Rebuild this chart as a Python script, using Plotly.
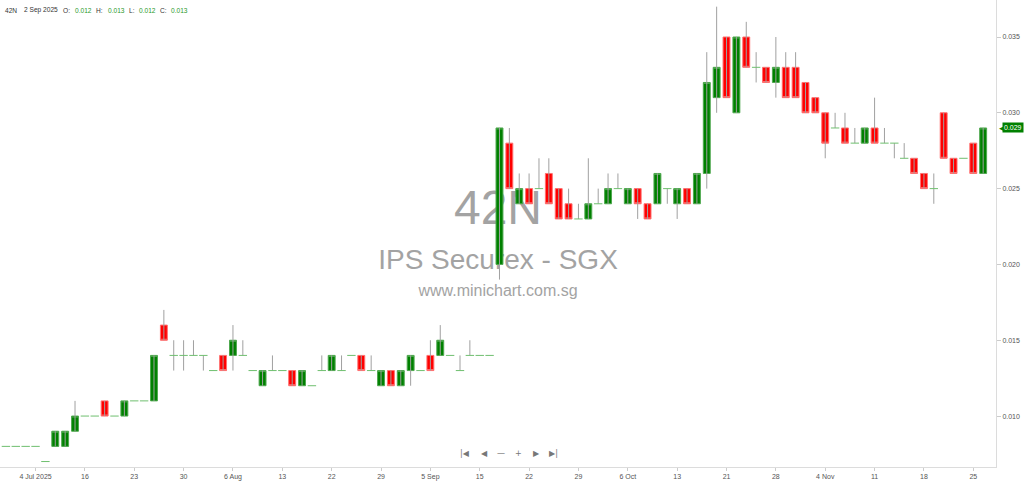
import plotly.graph_objects as go

# trading days shown on the category axis
dates = [
    "2025-06-27", "2025-07-01", "2025-07-03", "2025-07-04", "2025-07-07", "2025-07-09", "2025-07-10", "2025-07-14",
    "2025-07-16", "2025-07-17", "2025-07-18", "2025-07-21", "2025-07-22", "2025-07-23", "2025-07-24", "2025-07-25",
    "2025-07-28", "2025-07-29", "2025-07-30", "2025-07-31", "2025-08-01", "2025-08-04", "2025-08-05", "2025-08-06",
    "2025-08-07", "2025-08-08", "2025-08-11", "2025-08-12", "2025-08-13", "2025-08-14", "2025-08-15", "2025-08-19",
    "2025-08-20", "2025-08-22", "2025-08-25", "2025-08-26", "2025-08-27", "2025-08-28", "2025-08-29", "2025-09-01",
    "2025-09-02", "2025-09-03", "2025-09-04", "2025-09-05", "2025-09-08", "2025-09-09", "2025-09-10", "2025-09-12",
    "2025-09-15", "2025-09-16", "2025-09-17", "2025-09-18", "2025-09-19", "2025-09-22", "2025-09-23", "2025-09-24",
    "2025-09-25", "2025-09-26", "2025-09-29", "2025-09-30", "2025-10-01", "2025-10-02", "2025-10-03", "2025-10-06",
    "2025-10-07", "2025-10-08", "2025-10-09", "2025-10-10", "2025-10-13", "2025-10-14", "2025-10-15", "2025-10-16",
    "2025-10-17", "2025-10-21", "2025-10-22", "2025-10-23", "2025-10-24", "2025-10-27", "2025-10-28", "2025-10-29",
    "2025-10-30", "2025-10-31", "2025-11-03", "2025-11-04", "2025-11-05", "2025-11-06", "2025-11-07", "2025-11-10",
    "2025-11-11", "2025-11-12", "2025-11-13", "2025-11-14", "2025-11-17", "2025-11-18", "2025-11-19", "2025-11-20",
    "2025-11-21", "2025-11-24", "2025-11-25", "2025-11-26",
]

opens = [
    0.008, 0.008, 0.008, 0.008, 0.007, 0.008, 0.008, 0.009, 0.010, 0.010,
    0.011, 0.010, 0.010, 0.011, 0.011, 0.011, 0.016, 0.014, 0.014, 0.014,
    0.014, 0.013, 0.014, 0.014, 0.014, 0.013, 0.012, 0.013, 0.013, 0.013,
    0.012, 0.012, 0.013, 0.013, 0.013, 0.014, 0.014, 0.013, 0.012, 0.013,
    0.012, 0.013, 0.013, 0.014, 0.014, 0.014, 0.013, 0.014, 0.014, 0.014,
    0.020, 0.028, 0.024, 0.025, 0.025, 0.026, 0.025, 0.024, 0.023, 0.023,
    0.024, 0.024, 0.025, 0.024, 0.025, 0.024, 0.024, 0.025, 0.024, 0.025,
    0.024, 0.026, 0.031, 0.035, 0.030, 0.035, 0.033, 0.033, 0.032, 0.033,
    0.033, 0.032, 0.031, 0.030, 0.029, 0.029, 0.028, 0.028, 0.029, 0.028,
    0.028, 0.027, 0.027, 0.026, 0.025, 0.030, 0.027, 0.027, 0.028, 0.026,
]
highs = [
    0.008, 0.008, 0.008, 0.008, 0.007, 0.009, 0.009, 0.011, 0.010, 0.010,
    0.011, 0.010, 0.011, 0.011, 0.011, 0.014, 0.017, 0.015, 0.015, 0.015,
    0.014, 0.013, 0.014, 0.016, 0.015, 0.013, 0.013, 0.014, 0.013, 0.013,
    0.013, 0.012, 0.014, 0.014, 0.014, 0.014, 0.014, 0.014, 0.013, 0.013,
    0.013, 0.014, 0.013, 0.015, 0.016, 0.014, 0.014, 0.015, 0.014, 0.014,
    0.029, 0.029, 0.026, 0.026, 0.027, 0.027, 0.025, 0.025, 0.024, 0.027,
    0.025, 0.026, 0.026, 0.025, 0.025, 0.024, 0.026, 0.025, 0.025, 0.025,
    0.026, 0.034, 0.037, 0.035, 0.035, 0.036, 0.034, 0.033, 0.035, 0.034,
    0.034, 0.032, 0.031, 0.030, 0.030, 0.030, 0.029, 0.029, 0.031, 0.029,
    0.028, 0.028, 0.027, 0.026, 0.026, 0.030, 0.027, 0.027, 0.028, 0.029,
]
lows = [
    0.008, 0.008, 0.008, 0.008, 0.007, 0.008, 0.008, 0.009, 0.010, 0.010,
    0.010, 0.010, 0.010, 0.011, 0.011, 0.011, 0.015, 0.013, 0.013, 0.014,
    0.013, 0.013, 0.013, 0.013, 0.014, 0.013, 0.012, 0.013, 0.013, 0.012,
    0.012, 0.012, 0.013, 0.013, 0.013, 0.014, 0.013, 0.013, 0.012, 0.012,
    0.012, 0.012, 0.013, 0.013, 0.014, 0.014, 0.013, 0.014, 0.014, 0.014,
    0.019, 0.025, 0.024, 0.024, 0.025, 0.024, 0.023, 0.023, 0.023, 0.023,
    0.024, 0.024, 0.025, 0.024, 0.023, 0.023, 0.024, 0.024, 0.023, 0.024,
    0.024, 0.025, 0.030, 0.031, 0.030, 0.033, 0.032, 0.032, 0.031, 0.031,
    0.031, 0.030, 0.030, 0.027, 0.029, 0.028, 0.028, 0.028, 0.028, 0.028,
    0.027, 0.027, 0.026, 0.025, 0.024, 0.027, 0.026, 0.027, 0.026, 0.026,
]
closes = [
    0.008, 0.008, 0.008, 0.008, 0.007, 0.009, 0.009, 0.010, 0.010, 0.010,
    0.010, 0.010, 0.011, 0.011, 0.011, 0.014, 0.015, 0.014, 0.014, 0.014,
    0.014, 0.013, 0.013, 0.015, 0.014, 0.013, 0.013, 0.013, 0.013, 0.012,
    0.013, 0.012, 0.013, 0.014, 0.013, 0.014, 0.013, 0.013, 0.013, 0.012,
    0.013, 0.014, 0.013, 0.013, 0.015, 0.014, 0.013, 0.014, 0.014, 0.014,
    0.029, 0.025, 0.025, 0.024, 0.025, 0.024, 0.023, 0.023, 0.023, 0.024,
    0.024, 0.025, 0.025, 0.025, 0.024, 0.023, 0.026, 0.025, 0.025, 0.024,
    0.026, 0.032, 0.033, 0.031, 0.035, 0.033, 0.033, 0.032, 0.033, 0.031,
    0.031, 0.030, 0.030, 0.028, 0.029, 0.028, 0.028, 0.029, 0.028, 0.028,
    0.028, 0.027, 0.026, 0.025, 0.025, 0.027, 0.026, 0.027, 0.026, 0.029,
]

tick_dates = ["2025-07-04", "2025-07-16", "2025-07-23", "2025-07-30", "2025-08-06", "2025-08-13", "2025-08-22",
              "2025-08-29", "2025-09-05", "2025-09-15", "2025-09-22", "2025-09-29", "2025-10-06", "2025-10-13",
              "2025-10-21", "2025-10-28", "2025-11-04", "2025-11-11", "2025-11-18", "2025-11-25"]
tick_labels = ["4 Jul 2025", "16", "23", "30", "6 Aug", "13", "22", "29", "5 Sep", "15", "22", "29",
               "6 Oct", "13", "21", "28", "4 Nov", "11", "18", "25"]
price_ticks = [0.010, 0.015, 0.020, 0.025, 0.030, 0.035]

ticker = "42N"
company = "IPS Securex - SGX"
site = "www.minichart.com.sg"
header_date = "2025-09-02"
header_label = "2 Sep 2025"

GREEN = "#008000"
RED = "#ff0000"
FONT = "Liberation Sans"
PLOT_W = 996.0

# split bodies and flat (open == close) days
body_o, body_h, body_l, body_c = [], [], [], []
flat_x, flat_y = [], []
for d, o, c in zip(dates, opens, closes):
    if o == c:
        body_o.append(None); body_h.append(None); body_l.append(None); body_c.append(None)
        flat_x.append(d); flat_y.append(c)
    else:
        body_o.append(o); body_c.append(c)
        body_h.append(max(o, c)); body_l.append(min(o, c))

fig = go.Figure()

# wicks
fig.add_trace(go.Ohlc(x=dates, open=opens, high=highs, low=lows, close=closes, tickwidth=0,
                      increasing=dict(line=dict(color="#a0a0a0", width=1)),
                      decreasing=dict(line=dict(color="#a0a0a0", width=1)),
                      hoverinfo="skip", showlegend=False))

# bodies
fig.add_trace(go.Candlestick(x=dates, open=body_o, high=body_h, low=body_l, close=body_c, whiskerwidth=0,
                             increasing=dict(fillcolor=GREEN, line=dict(color="#4fa84f", width=1)),
                             decreasing=dict(fillcolor=RED, line=dict(color="#ff7070", width=1)),
                             showlegend=False))

# flat days drawn as dashes
fig.add_trace(go.Scatter(x=flat_x, y=flat_y, mode="markers",
                         marker=dict(symbol="line-ew", size=6, line=dict(color="#6fbf6f", width=1)),
                         showlegend=False))

# watermark behind the candles
shapes = []
for txt, yc, size in [(ticker, 0.566, 48), (company, 0.45, 28), (site, 0.383, 16)]:
    shapes.append(dict(type="rect", xref="paper", yref="paper", x0=0.3, x1=0.7, y0=yc - 0.05, y1=yc + 0.05,
                       line=dict(width=0), fillcolor="rgba(0,0,0,0)", layer="below",
                       label=dict(text=txt, textposition="middle center",
                                  font=dict(family=FONT, size=size, color="#a3a3a3"))))

# header line (hovered day)
hi = dates.index(header_date)
header_parts = [
    (ticker, 3, "#333"), (header_label, 22, "#333"),
    ("O:", 61, "#333"), ("%.3f" % opens[hi], 73, "#2a9a2a"),
    ("H:", 94, "#333"), ("%.3f" % highs[hi], 106, "#2a9a2a"),
    ("L:", 127, "#333"), ("%.3f" % lows[hi], 137, "#2a9a2a"),
    ("C:", 158, "#333"), ("%.3f" % closes[hi], 169, "#2a9a2a"),
]
annotations = []
for txt, px, col in header_parts:
    annotations.append(dict(text=txt, xref="paper", yref="paper", x=px / PLOT_W, y=0.978,
                            xanchor="left", yanchor="middle", showarrow=False,
                            font=dict(family=FONT, size=6.6, color=col)))

# last price tag
annotations.append(dict(text="◀", xref="paper", yref="y", x=1.0015, y=closes[-1], xanchor="left",
                        yanchor="middle", showarrow=False, font=dict(family="DejaVu Sans", size=9, color=GREEN)))
annotations.append(dict(text="%.3f" % closes[-1], xref="paper", yref="y", x=1.0065, y=closes[-1],
                        xanchor="left", yanchor="middle", showarrow=False, bgcolor=GREEN, borderpad=1,
                        font=dict(family=FONT, size=7, color="white")))

nav = ["|◀", "◀", "—", "+", "▶", "▶|"]
nav_x = [0.467, 0.486, 0.503, 0.521, 0.539, 0.556]
for s, xp in zip(nav, nav_x):
    annotations.append(dict(text=s, xref="paper", yref="paper", x=xp, y=0.016, showarrow=False,
                            font=dict(family="DejaVu Sans", size=8, color="#777")))

fig.update_layout(
    width=1024, height=484,
    margin=dict(l=0, r=28, t=0, b=17),
    paper_bgcolor="white", plot_bgcolor="rgba(0,0,0,0)",
    boxgap=0.3, boxgroupgap=0,
    shapes=shapes, annotations=annotations,
    hovermode=False,
    xaxis=dict(type="category", categoryorder="array", categoryarray=dates,
               range=[-0.6, 100.3], rangeslider=dict(visible=False),
               tickmode="array", tickvals=tick_dates, ticktext=tick_labels,
               showgrid=False, zeroline=False, showline=True, linecolor="#dcdcdc", linewidth=1,
               ticks="outside", ticklen=3, tickcolor="#cccccc",
               tickfont=dict(family=FONT, size=7, color="#555")),
    yaxis=dict(side="right", range=[0.00664, 0.03744], tickmode="array", tickvals=price_ticks,
               tickformat=".3f", showgrid=False, zeroline=False, showline=True,
               linecolor="#dcdcdc", linewidth=1, ticks="outside", ticklen=4, tickcolor="#cccccc",
               tickfont=dict(family=FONT, size=7, color="#555")),
)

fig.write_html("out.html", config={"displayModeBar": False},
               post_script="document.body.style.margin='0';")
